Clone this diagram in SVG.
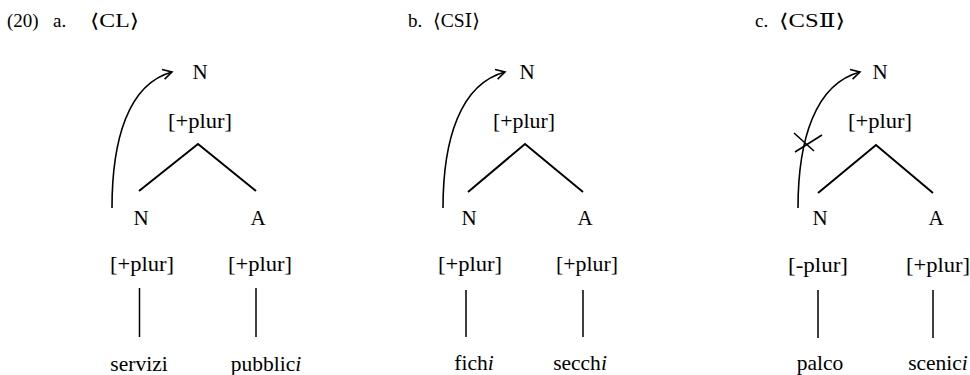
<svg xmlns="http://www.w3.org/2000/svg" width="970" height="375" viewBox="0 0 970 375">
<defs>
<marker id="arr" viewBox="0 0 12 12" refX="10" refY="6" markerWidth="12" markerHeight="12" markerUnits="userSpaceOnUse" orient="auto">
<path d="M1,1 L10,6 L1,11" fill="none" stroke="#000" stroke-width="1.6"/>
</marker>
<style>
text{font-family:"Liberation Serif","DejaVu Serif",serif;fill:#000;font-size:21px}
.t{font-size:19px}
.w{font-size:21.5px}
.m{text-anchor:middle}
.e{stroke:#000;stroke-width:2;fill:none}
.v{stroke:#000;stroke-width:1.5;fill:none}
.a{stroke:#000;stroke-width:1.6;fill:none}
</style>
</defs>
<rect width="970" height="375" fill="#fff"/>

<g id="titles">
<text class="t" x="7" y="27">(20)</text>
<text class="t" x="53" y="27">a.</text>
<text class="t" x="90" y="27" textLength="49" lengthAdjust="spacingAndGlyphs">⟨CL⟩</text>
<text class="t" x="408" y="27">b.</text>
<text class="t" x="433" y="27" textLength="47" lengthAdjust="spacingAndGlyphs">⟨CSⅠ⟩</text>
<text class="t" x="755" y="27">c.</text>
<text class="t" x="779" y="27" textLength="66" lengthAdjust="spacingAndGlyphs">⟨CSⅡ⟩</text>
</g>

<g id="tree-a">
<g id="a-top"><text class="m" x="200" y="79">N</text><text class="m" x="200" y="128" textLength="64" lengthAdjust="spacingAndGlyphs">[+plur]</text></g>
<g id="a-n"><text class="m" x="141" y="225">N</text><text class="m" x="142" y="271" textLength="64" lengthAdjust="spacingAndGlyphs">[+plur]</text><text class="m w" x="139" y="371">servizi</text></g>
<g id="a-a"><text class="m" x="258" y="225">A</text><text class="m" x="260" y="271" textLength="64" lengthAdjust="spacingAndGlyphs">[+plur]</text><text class="m w" x="266" y="371">pubblic<tspan font-style="italic">i</tspan></text></g>
</g>

<g id="tree-b">
<g id="b-top"><text class="m" x="527" y="79">N</text><text class="m" x="524" y="128" textLength="62" lengthAdjust="spacingAndGlyphs">[+plur]</text></g>
<g id="b-n"><text class="m" x="469" y="225">N</text><text class="m" x="470" y="271" textLength="64" lengthAdjust="spacingAndGlyphs">[+plur]</text><text class="m w" x="474" y="370">fich<tspan font-style="italic">i</tspan></text></g>
<g id="b-a"><text class="m" x="585" y="225">A</text><text class="m" x="587" y="271" textLength="62" lengthAdjust="spacingAndGlyphs">[+plur]</text><text class="m w" x="580" y="370">secch<tspan font-style="italic">i</tspan></text></g>
</g>

<g id="tree-c">
<g id="c-top"><text class="m" x="880" y="79">N</text><text class="m" x="880" y="128" textLength="64" lengthAdjust="spacingAndGlyphs">[+plur]</text></g>
<g id="c-n"><text class="m" x="820" y="225">N</text><text class="m" x="818" y="272" textLength="60" lengthAdjust="spacingAndGlyphs">[-plur]</text><text class="m w" x="820" y="370">palco</text></g>
<g id="c-a"><text class="m" x="936" y="225">A</text><text class="m" x="938" y="272" textLength="64" lengthAdjust="spacingAndGlyphs">[+plur]</text><text class="m w" x="938" y="370">scenic<tspan font-style="italic">i</tspan></text></g>
</g>

<g id="connectors">
<path class="e" d="M139,191 L198,144 L256,191"/>
<path class="v" d="M139.5,288 V337 M256,288 V337"/>
<path class="a" d="M112,208 C112,140 128,84 172,72" marker-end="url(#arr)"/>

<path class="e" d="M468,192 L525,144 L583,192"/>
<path class="v" d="M466,290 V337 M583,290 V337"/>
<path class="a" d="M443,208 C443,140 460,84 505,72" marker-end="url(#arr)"/>

<path class="e" d="M818,193 L876,145 L933,193"/>
<path class="v" d="M818,290 V338 M933,290 V338"/>
<path class="a" d="M798,208 C798,140 815,84 860,72" marker-end="url(#arr)"/>
<path class="a" d="M794,133 L814,151 M795,152 L822,135"/>
</g>
</svg>
